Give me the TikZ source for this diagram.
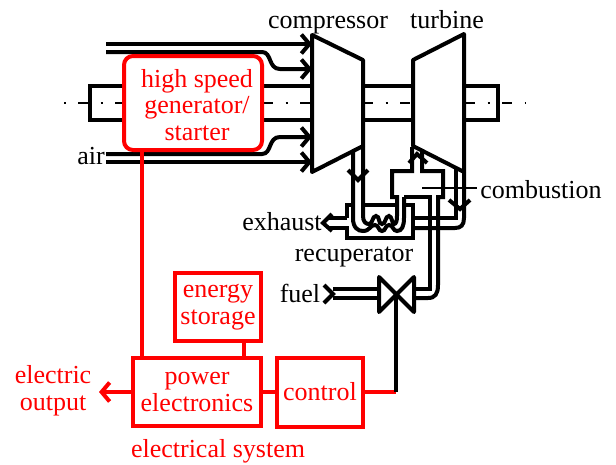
\documentclass[tikz,border=0pt]{standalone}
\usepackage{fontspec}
\setmainfont{Liberation Serif}
\usetikzlibrary{arrows.meta, positioning}
\tikzset{
  pipe/.style={line width=4pt, line join=miter},
  wire/.style={line width=4pt, red},
  block/.style={draw=red, line width=4pt, red, fill=white, align=center, inner sep=0pt, font=\fontsize{26}{26.8}\selectfont},
  lbl/.style={font=\fontsize{26}{26.8}\selectfont, inner sep=0pt, anchor=base},
  rlbl/.style={lbl, red, align=center},
  axisline/.style={line width=2pt, dash pattern=on 10pt off 12.5pt on 2pt off 12.5pt},
  >={Straight Barb[length=8pt, width=19pt]}
}
\begin{document}
\begin{tikzpicture}[x=1pt, y=-1pt]
\useasboundingbox (0,0) rectangle (616,464);
% shaft
\draw[pipe] (124,86) -- (90,86) -- (90,120) -- (124,120);
\draw[pipe] (262,86) -- (312,86);
\draw[pipe] (262,120) -- (312,120);
\draw[pipe] (363,86) -- (413,86);
\draw[pipe] (363,120) -- (413,120);
\draw[pipe] (464,86) -- (498,86) -- (498,120) -- (464,120);
\foreach \xa/\xb in {78/124, 263/312, 363/411, 465/526}
  \draw[axisline] (\xa,103) -- (\xb,103);
\draw[axisline, dash pattern=on 2pt off 12pt] (64,103) -- (67,103);
% air inlets
\draw[pipe, ->] (106,44) -- (312,44);
\draw[pipe, ->] (106,52) -- (262,52) .. controls (272,52) and (268,69) .. (280,69) -- (312,69);
\draw[pipe, ->] (106,154) -- (262,154) .. controls (272,154) and (268,137) .. (280,137) -- (312,137);
\draw[pipe, ->] (106,162) -- (312,162);
% compressor and turbine
\draw[pipe, line join=round] (312,35) -- (363,60) -- (363,146) -- (312,172) -- cycle;
\draw[pipe, line join=round] (413,60) -- (464,34) -- (464,172) -- (413,146) -- cycle;
% compressor outlet and coil
\draw[pipe] (353,151) -- (353,218) .. controls (353,228) and (358,231) .. (363,231)
  .. controls (370,231) and (370,225) .. (375,225) .. controls (379,225) and (378,231) .. (382,231)
  .. controls (386,231) and (385,225) .. (389,225) .. controls (393,225) and (393,231) .. (397,231)
  .. controls (402,231) and (404,226) .. (404,218) -- (404,197);
\draw[pipe] (363,146) -- (363,216) .. controls (363,222) and (366,224) .. (369,224)
  .. controls (373,224) and (372,216) .. (376,216) .. controls (380,216) and (378,224) .. (382,224)
  .. controls (386,224) and (385,216) .. (389,216) .. controls (392,216) and (392,224) .. (394,224)
  .. controls (396,224) and (397,221) .. (397,216) -- (397,197) -- (392,197) -- (392,171) -- (412,171) -- (412,147);
\draw[pipe] (348,170) -- (358,180) -- (368,170);
% combustor
\draw[pipe] (422,151) -- (422,171) -- (443,171) -- (443,197) -- (438,197) -- (438,285)
  .. controls (438,294) and (435,298) .. (428,298) -- (414,298);
\draw[pipe] (404,197) -- (430,197) -- (430,289) -- (414,289);
\draw[pipe] (409,163) -- (417,154) -- (427,163);
\draw[line width=1.5pt] (422,188) -- (477,188);
% turbine outlet and recuperator
\draw[pipe] (456,167) -- (456,218) -- (413,218);
\draw[pipe] (464,172) -- (464,218) .. controls (464,225) and (461,228) .. (455,228) -- (413,228);
\draw[pipe] (449,200) -- (460,209) -- (470,200);
\draw[pipe] (347,218) -- (347,205) -- (353,205);
\draw[pipe] (363,205) -- (397,205);
\draw[pipe] (404,205) -- (413,205) -- (413,238) -- (347,238) -- (347,228) -- (329,228);
\draw[pipe] (347,218) -- (329,218);
\draw[pipe] (332,214) -- (323,223) -- (332,231);
% fuel valve
\draw[pipe] (333,289) -- (379,289);
\draw[pipe] (333,298) -- (379,298);
\draw[pipe] (324,285) -- (333,294) -- (324,303);
\draw[pipe, line join=round] (379,277) -- (414,312) -- (414,277) -- (379,312) -- cycle;
\coordinate (valve) at (396,295);
% electrical system
\node[block, rounded corners=9pt, minimum width=138pt, minimum height=94pt] (gen) at (193,103) {};
\node[lbl, red, align=center, anchor=center] (genlbl) at (197,105) {high speed\\generator/\\starter};
\node[block, minimum width=86pt, minimum height=68pt] (storage) at (218,307) {energy\\storage};
\node[block, minimum width=128pt, minimum height=68pt] (power) at (197,392) {power\\electronics};
\node[block, minimum width=86pt, minimum height=69pt] (control) at (320,392) {control};
\coordinate (out) at (99,392);
\coordinate (bend) at (396,392);
\draw[wire] (gen.south -| 142,0) -- (power.north -| 142,0);
\draw[wire] (storage.south -| 244,0) -- (power.north -| 244,0);
\draw[wire, ->] (power.west) -- (out);
\draw[wire] (power.east) -- (control.west);
\draw[wire] (control.east) -- (bend);
\draw[line width=3.5pt] (bend) -- (valve);
% labels
\node[lbl] (compressorlbl) at (328,28) {compressor};
\node[lbl] (turbinelbl) at (447,28) {turbine};
\node[lbl] (airlbl) at (91,164) {air};
\node[lbl] (combustionlbl) at (541,198) {combustion};
\node[lbl] (exhaustlbl) at (282,230) {exhaust};
\node[lbl] (recuplbl) at (354,261) {recuperator};
\node[lbl] (fuellbl) at (300,302) {fuel};
\node[rlbl, anchor=center] (outputlbl) at (53,391) {electric\\output};
\node[rlbl] (systemlbl) at (218,457.5) {electrical system};
\end{tikzpicture}
\end{document}
